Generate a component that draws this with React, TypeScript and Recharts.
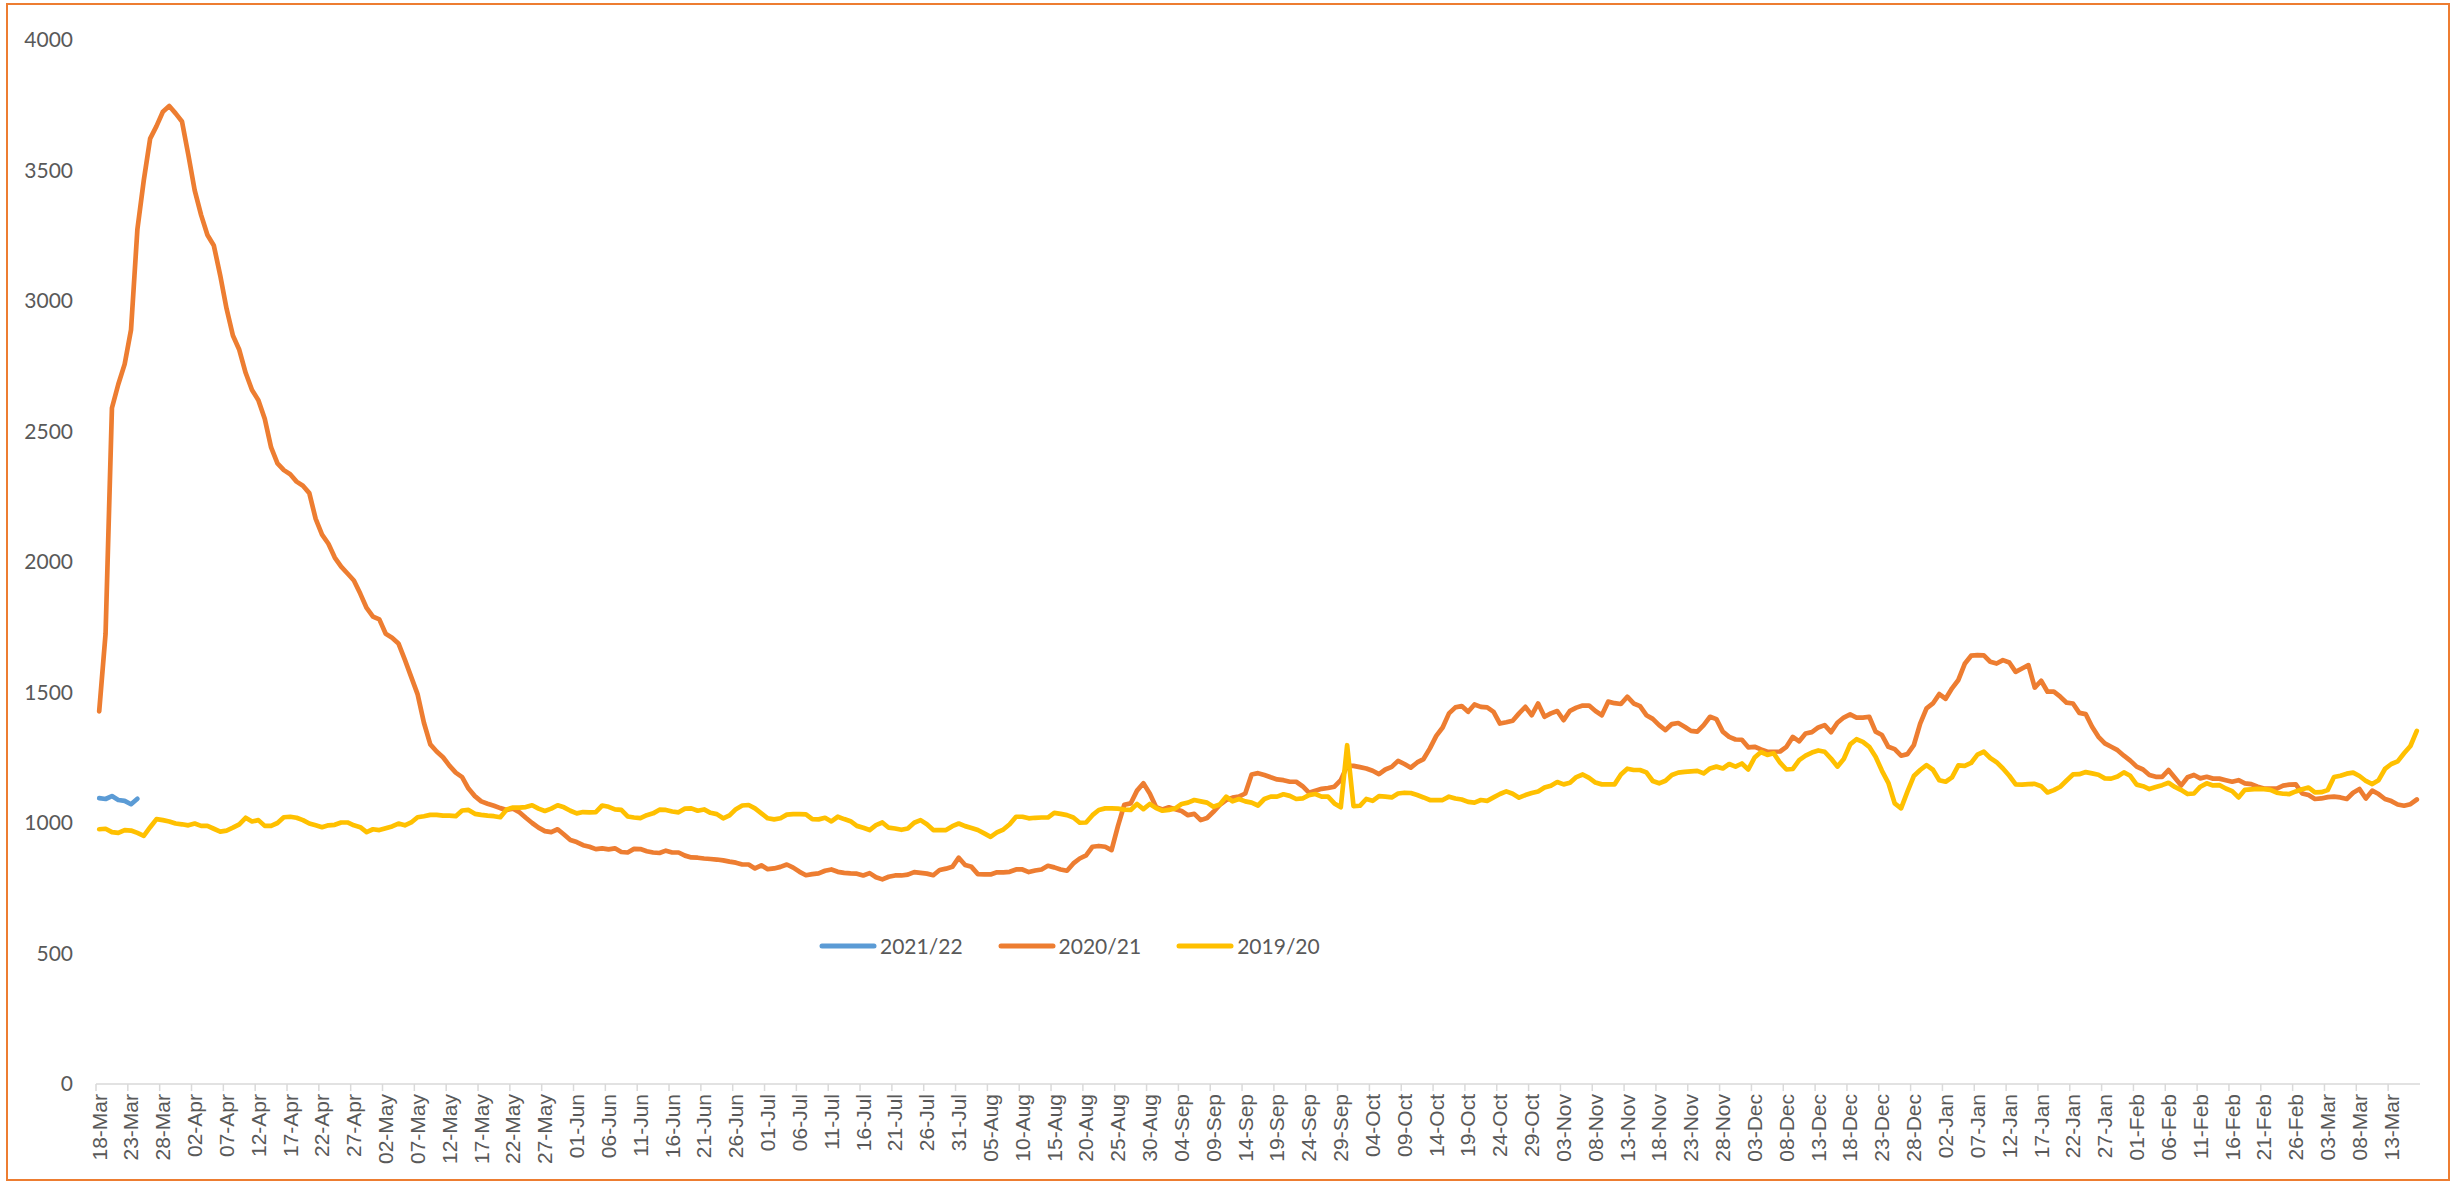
import React from "react";
import { LineChart, Line, XAxis, YAxis, Legend } from "recharts";

const BLUE = "#5B9BD5";
const ORANGE = "#ED7D31";
const YELLOW = "#FFC000";
const TEXT = "#595959";

// 18-Mar .. 17-Mar (365 days)
const MONTH_SPANS: [string, number, number][] = [
  ["Mar", 18, 31], ["Apr", 1, 30], ["May", 1, 31], ["Jun", 1, 30], ["Jul", 1, 31],
  ["Aug", 1, 31], ["Sep", 1, 30], ["Oct", 1, 31], ["Nov", 1, 30], ["Dec", 1, 31],
  ["Jan", 1, 31], ["Feb", 1, 28], ["Mar", 1, 17],
];
const days: string[] = MONTH_SPANS.flatMap(([m, a, b]) =>
  Array.from({ length: b - a + 1 }, (_, k) => `${String(a + k).padStart(2, "0")}-${m}`)
);

const yTicks = [0, 500, 1000, 1500, 2000, 2500, 3000, 3500, 4000];

const season2122 = [1095, 1092, 1103, 1088, 1085, 1072, 1093];

const season2021 = [
  1428, 1725, 2590, 2681, 2758, 2890, 3275, 3462, 3622, 3670,
  3725, 3747, 3719, 3688, 3560, 3424, 3330, 3253, 3213, 3099,
  2971, 2868, 2813, 2725, 2659, 2620, 2549, 2439, 2378, 2352,
  2336, 2308, 2292, 2264, 2165, 2105, 2070, 2017, 1982, 1956,
  1929, 1879, 1824, 1791, 1780, 1725, 1710, 1688, 1626, 1560,
  1494, 1384, 1301, 1274, 1252, 1220, 1193, 1176, 1132, 1103,
  1083, 1074, 1066, 1057, 1050, 1055, 1041, 1020, 1000, 982,
  969, 965, 976, 956, 935, 927, 915, 909, 900, 903,
  899, 903, 889, 887, 901, 900, 892, 887, 885, 894,
  887, 887, 875, 868, 867, 864, 862, 860, 857, 852,
  848, 841, 841, 826, 838, 823, 826, 832, 841, 829,
  813, 800, 804, 807, 817, 822, 813, 809, 807, 806,
  799, 808, 792, 784, 794, 799, 799, 802, 812, 809,
  806, 800, 820, 825, 832, 867, 839, 832, 804, 803,
  803, 811, 811, 813, 822, 822, 812, 818, 822, 836,
  830, 822, 817, 845, 864, 876, 909, 912, 909, 896,
  988, 1070, 1075, 1124, 1152, 1113, 1060, 1052, 1060, 1053,
  1046, 1030, 1035, 1011, 1019, 1043, 1069, 1088, 1097, 1101,
  1113, 1186, 1191, 1184, 1175, 1167, 1164, 1158, 1158, 1141,
  1116, 1124, 1131, 1134, 1139, 1164, 1219, 1219, 1214, 1209,
  1200, 1187, 1205, 1215, 1238, 1226, 1212, 1232, 1245, 1286,
  1334, 1366, 1420, 1443, 1448, 1426, 1454, 1445, 1443, 1426,
  1381, 1386, 1392, 1420, 1445, 1413, 1458, 1407, 1420, 1429,
  1394, 1430, 1442, 1450, 1450, 1429, 1413, 1465, 1459, 1456,
  1484, 1458, 1448, 1413, 1399, 1375, 1356, 1379, 1383, 1369,
  1353, 1350, 1375, 1407, 1398, 1350, 1330, 1320, 1319, 1290,
  1292, 1282, 1273, 1273, 1274, 1292, 1330, 1313, 1343, 1348,
  1366, 1375, 1348, 1384, 1404, 1416, 1404, 1404, 1407, 1350,
  1337, 1292, 1283, 1258, 1264, 1298, 1381, 1439, 1458, 1494,
  1476, 1516, 1548, 1610, 1641, 1643, 1642, 1618, 1611, 1624,
  1615, 1579, 1592, 1605, 1519, 1545, 1503, 1503, 1484, 1461,
  1458, 1422, 1417, 1369, 1330, 1305, 1292, 1279, 1258, 1239,
  1216, 1205, 1184, 1177, 1177, 1203, 1173, 1144, 1175, 1184,
  1171, 1177, 1170, 1170, 1164, 1158, 1164, 1152, 1149, 1139,
  1132, 1132, 1132, 1143, 1147, 1148, 1113, 1107, 1092, 1094,
  1099, 1101, 1098, 1092, 1116, 1130, 1094, 1124, 1111, 1092,
  1084, 1071, 1066, 1072, 1090,
];

const season1920 = [
  976, 978, 965, 962, 973, 971, 962, 951, 984, 1015,
  1011, 1006, 998, 995, 991, 998, 989, 989, 978, 967,
  971, 982, 995, 1020, 1006, 1011, 989, 989, 1000, 1022,
  1024, 1020, 1011, 998, 991, 984, 991, 993, 1002, 1002,
  991, 984, 965, 976, 973, 980, 987, 998, 991, 1002,
  1022, 1026, 1031, 1031, 1028, 1028, 1026, 1048, 1050, 1035,
  1031, 1028, 1026, 1022, 1052, 1059, 1059, 1061, 1068, 1055,
  1046, 1055, 1068, 1060, 1047, 1037, 1042, 1041, 1042, 1067,
  1062, 1052, 1050, 1025, 1021, 1019, 1030, 1037, 1051, 1050,
  1044, 1041, 1055, 1056, 1047, 1052, 1039, 1034, 1018, 1029,
  1053, 1067, 1069, 1056, 1037, 1018, 1014, 1018, 1032, 1034,
  1034, 1033, 1015, 1014, 1020, 1006, 1024, 1015, 1007, 989,
  982, 973, 992, 1002, 982, 979, 974, 979, 1001, 1011,
  995, 973, 973, 973, 988, 998, 988, 981, 973, 960,
  947, 964, 975, 995, 1024, 1024, 1018, 1020, 1021, 1021,
  1039, 1035, 1030, 1021, 1001, 1002, 1030, 1050, 1056, 1056,
  1055, 1051, 1050, 1073, 1053, 1073, 1057, 1047, 1050, 1056,
  1073, 1078, 1088, 1083, 1078, 1062, 1071, 1101, 1083, 1092,
  1083, 1078, 1067, 1092, 1101, 1101, 1110, 1104, 1092, 1094,
  1107, 1111, 1101, 1101, 1075, 1060, 1298, 1065, 1066, 1092,
  1085, 1103, 1101, 1098, 1113, 1116, 1115, 1107, 1098, 1088,
  1088, 1088, 1101, 1094, 1090, 1081, 1078, 1088, 1085, 1098,
  1111, 1121, 1112, 1097, 1107, 1115, 1121, 1136, 1143, 1157,
  1148, 1154, 1176, 1186, 1173, 1155, 1148, 1148, 1148, 1186,
  1208, 1203, 1203, 1194, 1161, 1152, 1162, 1184, 1193, 1196,
  1198, 1200, 1190, 1209, 1216, 1209, 1226, 1216, 1228, 1205,
  1251, 1272, 1261, 1267, 1231, 1205, 1207, 1241, 1258, 1270,
  1278, 1273, 1247, 1216, 1245, 1301, 1321, 1311, 1292, 1254,
  1200, 1154, 1075, 1056, 1120, 1180, 1203, 1222, 1204, 1164,
  1158, 1175, 1221, 1219, 1230, 1262, 1273, 1249, 1233, 1209,
  1181, 1148, 1147, 1149, 1150, 1141, 1117, 1126, 1139, 1163,
  1186, 1187, 1195, 1190, 1185, 1171, 1170, 1178, 1194, 1181,
  1147, 1141, 1130, 1138, 1145, 1154, 1138, 1126, 1111, 1113,
  1139, 1152, 1144, 1145, 1132, 1122, 1098, 1127, 1129, 1131,
  1130, 1127, 1116, 1112, 1111, 1121, 1129, 1136, 1117, 1118,
  1126, 1176, 1181, 1189, 1193, 1180, 1161, 1149, 1164, 1207,
  1226, 1236, 1267, 1295, 1353,
];

const seriesInfo = [
  { key: "s2122", name: "2021/22", color: BLUE },
  { key: "s2021", name: "2020/21", color: ORANGE },
  { key: "s1920", name: "2019/20", color: YELLOW },
];

const data = days.map((day, i) => ({
  day,
  s2122: i < season2122.length ? season2122[i] : null,
  s2021: season2021[i],
  s1920: season1920[i],
}));

function DateTick({ x, y, payload }: any) {
  return (
    <g transform={`translate(${x},${y})`}>
      <line x1={-3.2} x2={-3.2} y1={0} y2={7} stroke="#d9d9d9" strokeWidth={1.5} />
      <text
        transform="translate(0,10) rotate(-90)"
        textAnchor="end"
        dy="0.35em"
        fill={TEXT}
        fontSize={21}
        fontFamily="'Liberation Sans', Arial, sans-serif"
      >
        {payload.value}
      </text>
    </g>
  );
}

function LegendRow() {
  return (
    <div style={{ display: "flex", alignItems: "center", fontFamily: "Lato, sans-serif", fontSize: 21, color: TEXT }}>
      {seriesInfo.map((s, i) => (
        <div key={s.key} style={{ display: "flex", alignItems: "center", marginLeft: i === 0 ? 0 : 35 }}>
          <svg width={58} height={10} style={{ display: "block" }}>
            <line x1={3} x2={55} y1={5} y2={5} stroke={s.color} strokeWidth={5} strokeLinecap="round" />
          </svg>
          <span style={{ marginLeft: 3, lineHeight: "26px" }}>{s.name}</span>
        </div>
      ))}
    </div>
  );
}

export default function App() {
  return (
    <div style={{ position: "absolute", left: 0, top: 0, width: 2451, height: 1182, background: "#fff" }}>
      <LineChart
        width={2451}
        height={1182}
        data={data}
        margin={{ top: 40, right: 31, bottom: 8, left: 26 }}
      >
        <XAxis
          dataKey="day"
          interval={4}
          height={90}
          padding={{ left: 3.2, right: 3.2 }}
          tick={<DateTick />}
          tickLine={false}
          tickSize={0}
          tickMargin={0}
          axisLine={{ stroke: "#d9d9d9", strokeWidth: 1.5 }}
        />
        <YAxis
          width={70}
          domain={[0, 4000]}
          ticks={yTicks}
          axisLine={false}
          tickLine={false}
          tickSize={0}
          tickMargin={23}
          tick={{ fill: TEXT, fontSize: 21, fontFamily: "Lato, sans-serif" }}
        />
        <Legend
          layout="horizontal"
          verticalAlign="middle"
          align="center"
          content={() => <LegendRow />}
          wrapperStyle={{ left: 819, top: 933, width: "auto", height: "auto" }}
        />
        {seriesInfo.map((s) => (
          <Line
            key={s.key}
            type="linear"
            dataKey={s.key}
            name={s.name}
            stroke={s.color}
            strokeWidth={4.7}
            strokeLinejoin="round"
            strokeLinecap="round"
            dot={false}
            activeDot={false}
            isAnimationActive={false}
          />
        ))}
      </LineChart>
      <div
        style={{
          position: "absolute",
          left: 6,
          top: 3,
          width: 2444,
          height: 1178,
          border: `2px solid ${ORANGE}`,
          boxSizing: "border-box",
          pointerEvents: "none",
        }}
      />
    </div>
  );
}
